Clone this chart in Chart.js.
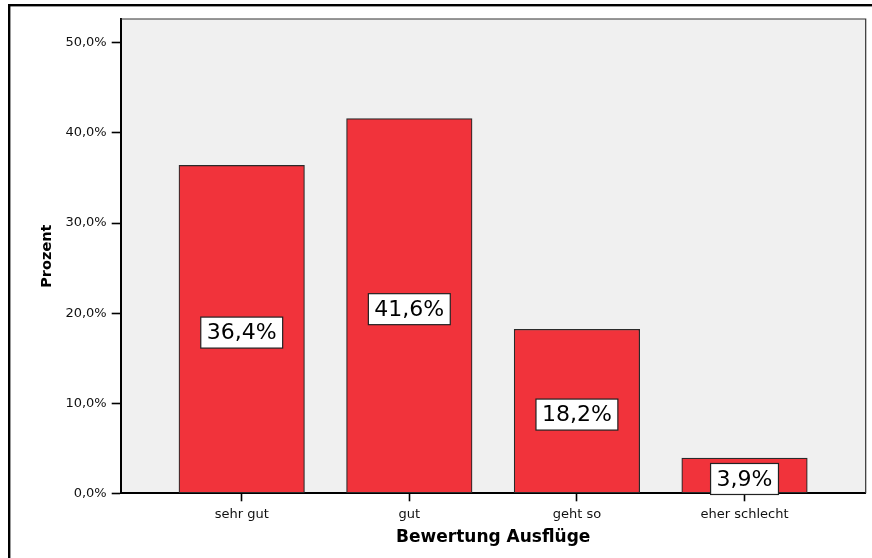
<!DOCTYPE html>
<html>
<head>
<meta charset="utf-8">
<script src="https://cdn.jsdelivr.net/npm/chart.js@4.4.1/dist/chart.umd.min.js"></script>
<style>
html,body{margin:0;padding:0;background:#fff;}
#wrap{width:872px;height:558px;position:relative;}
</style>
</head>
<body>
<div id="wrap"><canvas id="c" width="872" height="558"></canvas></div>
<script>
const categories = ['sehr gut', 'gut', 'geht so', 'eher schlecht'];
const percentValues = [36.4, 41.6, 18.2, 3.9];
const yTickValues = [0, 10, 20, 30, 40, 50];
const xAxisTitle = 'Bewertung Ausflüge';
const yAxisTitle = 'Prozent';

const fmt = v => v.toFixed(1).replace('.', ',') + '%';

const framePlugin = {
  id: 'frame',
  beforeDraw(chart) {
    const {ctx, chartArea: a} = chart;
    ctx.save();
    ctx.fillStyle = '#f0f0f0';
    ctx.fillRect(a.left, a.top, a.right - a.left, a.bottom - a.top);
    ctx.restore();
  },
  afterDraw(chart) {
    const {ctx, chartArea: a} = chart;
    ctx.save();
    ctx.strokeStyle = '#333';
    ctx.lineWidth = 1.2;
    ctx.beginPath();
    ctx.moveTo(a.left, a.top);
    ctx.lineTo(a.right, a.top);
    ctx.lineTo(a.right, a.bottom);
    ctx.stroke();
    ctx.fillStyle = '#000';
    ctx.fillRect(8, 4, 872, 2.4);
    ctx.fillRect(8, 4, 2.4, 560);
    ctx.restore();
  }
};

const valueLabelPlugin = {
  id: 'valueLabels',
  afterDatasetsDraw(chart) {
    const {ctx} = chart;
    const meta = chart.getDatasetMeta(0);
    ctx.save();
    ctx.font = '22px "DejaVu Sans"';
    ctx.textAlign = 'center';
    ctx.textBaseline = 'middle';
    meta.data.forEach((bar, i) => {
      const txt = fmt(percentValues[i]);
      const cy = (bar.y + bar.base) / 2 + 3.5;
      const w = ctx.measureText(txt).width + 12;
      const h = 31;
      ctx.fillStyle = '#fff';
      ctx.fillRect(bar.x - w / 2, cy - h / 2, w, h);
      ctx.strokeStyle = '#222';
      ctx.lineWidth = 1.2;
      ctx.strokeRect(bar.x - w / 2, cy - h / 2, w, h);
      ctx.fillStyle = '#000';
      ctx.fillText(txt, bar.x, cy + 1);
    });
    ctx.restore();
  }
};

new Chart(document.getElementById('c'), {
  type: 'bar',
  data: {
    datasets: [{
      data: percentValues.map((v, i) => ({x: i, y: v})),
      backgroundColor: '#f1333b',
      borderColor: '#2a2a2a',
      borderWidth: 1.2,
      borderSkipped: false,
      barThickness: 125.5
    }]
  },
  plugins: [framePlugin, valueLabelPlugin],
  options: {
    responsive: false,
    animation: false,
    devicePixelRatio: 1,
    layout: {padding: {left: 0, top: 19, right: 6.3, bottom: 0}},
    plugins: {legend: {display: false}, tooltip: {enabled: false}, title: {display: false}},
    scales: {
      x: {
        type: 'linear',
        offset: false,
        min: -0.722,
        max: 3.723,
        z: 1,
        afterFit(s) { s.height = 558 - 19 - 474.3; },
        afterBuildTicks(s) { s.ticks = categories.map((c, i) => ({value: i})); },
        border: {display: true, color: '#000', width: 2},
        grid: {offset: false, drawOnChartArea: false, drawTicks: true, tickLength: 8, tickColor: '#000', tickWidth: 1.6},
        ticks: {
          autoSkip: false, maxRotation: 0, padding: 6, color: '#111',
          font: {family: '"DejaVu Sans"', size: 13},
          callback: v => categories[v]
        },
        title: {
          display: true, text: xAxisTitle, color: '#000',
          font: {family: '"DejaVu Sans"', size: 17, weight: 'bold'},
          padding: {top: 0, bottom: 9.8}
        }
      },
      y: {
        min: 0,
        max: 52.65,
        z: 1,
        afterFit(s) { s.width = 120.7; },
        afterBuildTicks(s) { s.ticks = yTickValues.map(v => ({value: v})); },
        border: {display: true, color: '#000', width: 2},
        grid: {drawOnChartArea: false, drawTicks: true, tickLength: 9, tickColor: '#000', tickWidth: 1.6},
        ticks: {
          padding: 5, color: '#111',
          font: {family: '"DejaVu Sans"', size: 13},
          callback: v => fmt(v)
        },
        title: {
          display: true, text: yAxisTitle, color: '#000',
          font: {family: '"DejaVu Sans"', size: 14.5, weight: 'bold'},
          padding: {top: 38.3, bottom: 0}
        }
      }
    }
  }
});
</script>
</body>
</html>
